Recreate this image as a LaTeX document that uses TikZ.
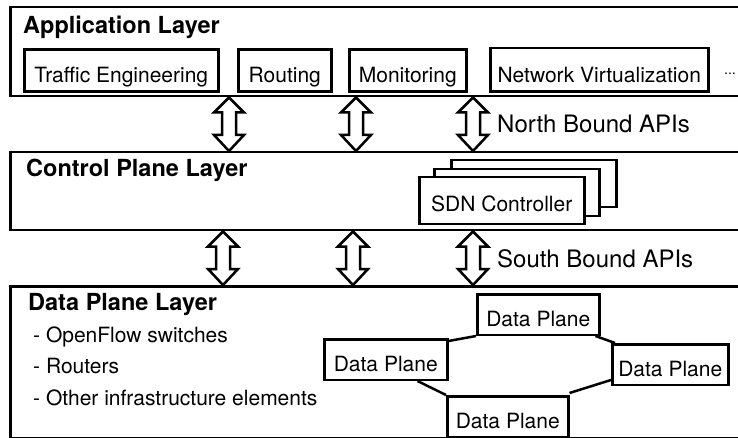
\documentclass[tikz,border=0pt]{standalone}
\usepackage{fontspec}
\setmainfont{TeX Gyre Heros}
\usetikzlibrary{calc}

\tikzset{
  thick line/.style={line width=2.5pt},
  layer/.style={draw, thick line, fill=white, anchor=north west, inner sep=0pt, minimum width=740pt},
  title/.style={anchor=base west, inner sep=0pt, font=\fontsize{23.5}{28}\selectfont\bfseries},
  item/.style={anchor=base west, inner sep=0pt, font=\fontsize{21}{25}\selectfont},
  api/.style={anchor=base west, inner sep=0pt, font=\fontsize{24}{28}\selectfont},
  appbox/.style={draw, thick line, fill=white, anchor=north west, inner sep=0pt,
    text height=33.2pt, text depth=8.8pt, font=\fontsize{21}{25}\selectfont},
  ctrlbox/.style={draw, thick line, fill=white, anchor=north west, inner sep=0pt,
    minimum width=165pt, text height=34.7pt, text depth=12.3pt, font=\fontsize{21}{25}\selectfont},
  dpbox/.style={draw, thick line, fill=white, anchor=north west, inner sep=0pt,
    text height=32pt, text depth=8.5pt, font=\fontsize{21}{25}\selectfont},
  link/.style={thick line},
  fatarrow/.style={draw, thick line, fill=white, line join=miter},
  % hollow double-headed arrow between two points on a vertical line
  fat/.style={to path={let \p1=(\tikztostart), \p2=(\tikztotarget) in
    (\x1,\y1) -- (\x1+15pt,\y1-15pt) -- (\x1+7pt,\y1-15pt) -- (\x1+7pt,\y2+16pt)
    -- (\x1+15pt,\y2+16pt) -- (\x1,\y2) -- (\x1-15pt,\y2+16pt) -- (\x1-7pt,\y2+16pt)
    -- (\x1-7pt,\y1-15pt) -- (\x1-15pt,\y1-15pt) -- cycle}},
}

\begin{document}
\begin{tikzpicture}[x=1pt, y=-1pt]
\useasboundingbox (0,0) rectangle (738,438);
\clip (0,0) rectangle (738,438);

% ---------- layers ----------
\node[layer, minimum height=89pt]  (app)  at (9,6)   {};
\node[layer, minimum height=78pt]  (ctl)  at (9,151) {};
\node[layer, minimum height=152pt] (data) at (9,285) {};

\node[title] (apptitle)  at (23,33.3)  {Application Layer};
\node[title] (ctltitle)  at (26,177)   {Control Plane Layer};
\node[title] (datatitle) at (28,310.7) {Data Plane Layer};

% ---------- applications ----------
\node[appbox, minimum width=194pt] (te)  at (23,48.5)  {Traffic Engineering};
\node[appbox, minimum width=93pt]  (rt)  at (237,48.5) {Routing};
\node[appbox, minimum width=117pt] (mon) at (348,48.5) {Monitoring};
\node[appbox, minimum width=218pt, text height=34.7pt] (nv) at (489,47) {Network Virtualization};
\node[anchor=base west, inner sep=0pt, font=\fontsize{14}{16}\selectfont] (more) at (724,75) {...};

% ---------- controllers ----------
\node[ctrlbox] (c3) at (450,159) {\phantom{SDN Controller}};
\node[ctrlbox] (c2) at (433,168) {\phantom{SDN Controller}};
\node[ctrlbox] (c1) at (418,176) {SDN Controller};

% ---------- APIs ----------
\coordinate (ua1) at (229,0);
\coordinate (ua2) at (356,0);
\coordinate (ua3) at (473,0);
\coordinate (la1) at (223,0);
\coordinate (la2) at (353,0);
\coordinate (la3) at (473,0);

\draw[fatarrow] (app.south -| ua1) to[fat] (ctl.north -| ua1);
\draw[fatarrow] (app.south -| ua2) to[fat] (ctl.north -| ua2);
\draw[fatarrow] (app.south -| ua3) to[fat] (ctl.north -| ua3);
\draw[fatarrow] (ctl.south -| la1) to[fat] (data.north -| la1);
\draw[fatarrow] (ctl.south -| la2) to[fat] (data.north -| la2);
\draw[fatarrow] (ctl.south -| la3) to[fat] (data.north -| la3);

\node[api] (nb) at (497,133) {North Bound APIs};
\node[api] (sb) at (497,267) {South Bound APIs};

% ---------- data plane ----------
\node[item] (i1) at (33,342.7) {- OpenFlow switches};
\node[item] (i2) at (33,373)   {- Routers};
\node[item] (i3) at (33,405)   {- Other infrastructure elements};

\node[dpbox, minimum width=122pt] (dtop)    at (476,293) {Data Plane};
\node[dpbox, minimum width=123pt] (dleft)   at (323,338) {Data Plane};
\node[dpbox, minimum width=116pt] (dright)  at (611,343) {Data Plane};
\node[dpbox, minimum width=121pt] (dbottom) at (446,395) {Data Plane};

\draw[link] ([yshift=-3pt]dleft.north east) -- (dtop.south west);
\draw[link] ([xshift=-5pt]dtop.south east) -- ([xshift=4pt]dright.north west);
\draw[link] ([xshift=-31pt]dleft.south east) -- (dbottom.north west);
\draw[link] ([yshift=2pt]dbottom.north east) -- ([yshift=6pt]dright.south west);
\end{tikzpicture}
\end{document}
